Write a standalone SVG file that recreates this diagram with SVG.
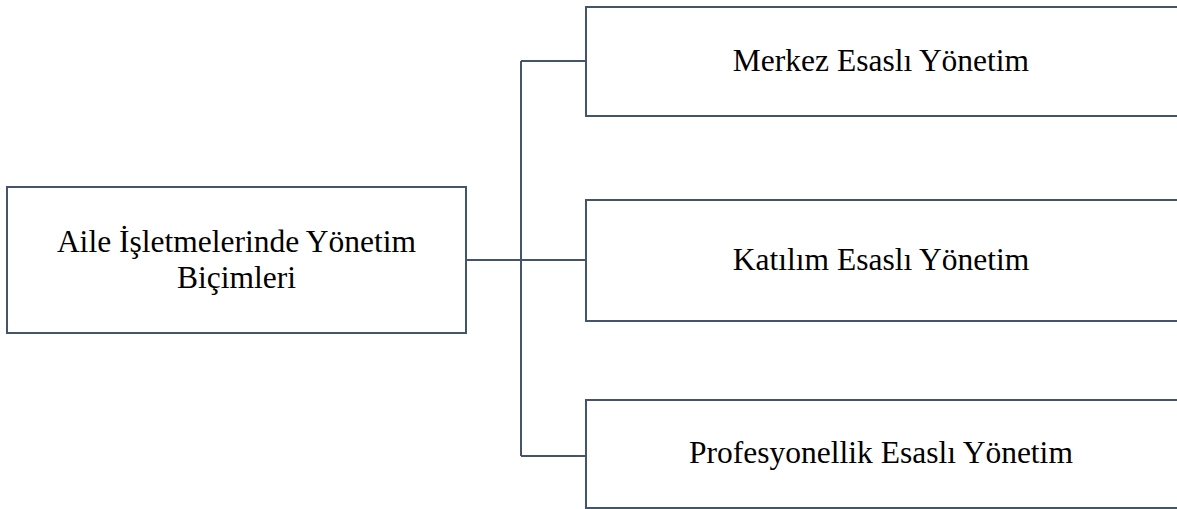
<svg xmlns="http://www.w3.org/2000/svg" width="1177" height="509" viewBox="0 0 1177 509">
<style>
.box{fill:#ffffff;stroke:#44546a;stroke-width:2}
.conn{fill:none;stroke:#44546a;stroke-width:2}
.lbl{font-family:"Liberation Serif","Times New Roman",serif;font-size:31.5px;fill:#000000;text-anchor:middle}
</style>
<rect width="1177" height="509" fill="#ffffff"/>
<g id="connectors">
<path class="conn" d="M466 260 H521 M521 61 V456 M521 61 H586 M521 260 H586 M521 456 H586"/>
</g>
<g id="root">
<rect class="box" x="7" y="187" width="459" height="146"/>
<text class="lbl" x="236.5" y="252">Aile İşletmelerinde Yönetim</text>
<text class="lbl" x="236.5" y="288">Biçimleri</text>
</g>
<g id="merkez">
<rect class="box" x="586" y="7" width="620" height="109"/>
<text class="lbl" x="881" y="71">Merkez Esaslı Yönetim</text>
</g>
<g id="katilim">
<rect class="box" x="586" y="200" width="620" height="121"/>
<text class="lbl" x="881" y="270">Katılım Esaslı Yönetim</text>
</g>
<g id="profesyonellik">
<rect class="box" x="586" y="400" width="620" height="108"/>
<text class="lbl" x="881" y="463">Profesyonellik Esaslı Yönetim</text>
</g>
</svg>
